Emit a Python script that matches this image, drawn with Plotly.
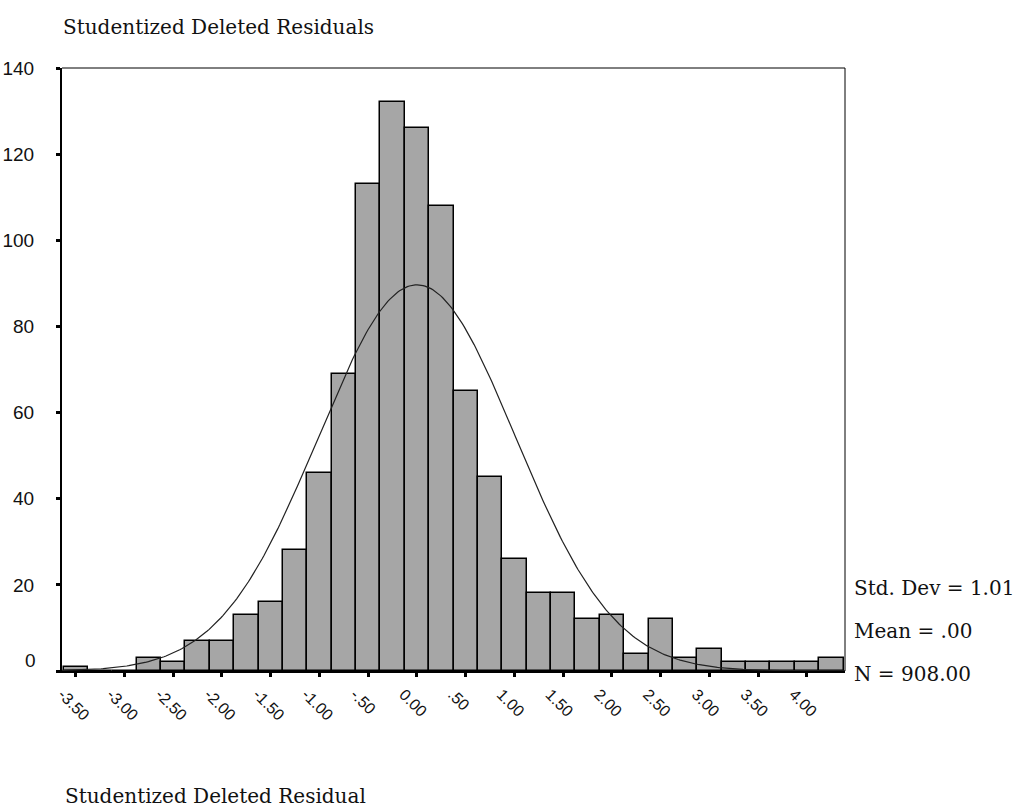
import numpy as np
import plotly.graph_objects as go

# ---- data ----
bin_centers = [-3.50, -3.25, -3.00, -2.75, -2.50, -2.25, -2.00, -1.75,
               -1.50, -1.25, -1.00, -0.75, -0.50, -0.25, 0.00, 0.25,
               0.50, 0.75, 1.00, 1.25, 1.50, 1.75, 2.00, 2.25,
               2.50, 2.75, 3.00, 3.25, 3.50, 3.75, 4.00, 4.25]
counts = [1, 0, 0, 3, 2, 7, 7, 13,
          16, 28, 46, 69, 113, 132, 126, 108,
          65, 45, 26, 18, 18, 12, 13, 4,
          12, 3, 5, 2, 2, 2, 2, 3]
tick_values = [-3.5, -3.0, -2.5, -2.0, -1.5, -1.0, -0.5, 0.0,
               0.5, 1.0, 1.5, 2.0, 2.5, 3.0, 3.5, 4.0]
tick_labels = ["-3.50", "-3.00", "-2.50", "-2.00", "-1.50", "-1.00", "-.50", "0.00",
               ".50", "1.00", "1.50", "2.00", "2.50", "3.00", "3.50", "4.00"]
y_ticks = [0, 20, 40, 60, 80, 100, 120, 140]
y_tick_labels = ["", "20", "40", "60", "80", "100", "120", "140"]  # "0" drawn separately (raised)

std_dev = 1.01
mean = 0.00
n_total = 908
bin_width = 0.25

title_top = "Studentized Deleted Residuals"
title_bottom = "Studentized Deleted Residual"
stats_lines = ["Std. Dev = 1.01", "Mean = .00", "N = 908.00"]

# normal curve fitted from the shown statistics
x_min, x_max = -3.641, 4.39
xs = np.linspace(x_min, x_max, 400)
ys = n_total * bin_width / (std_dev * np.sqrt(2 * np.pi)) * np.exp(-0.5 * ((xs - mean) / std_dev) ** 2)

fig = go.Figure()
fig.add_trace(go.Bar(
    x=bin_centers, y=counts, width=bin_width,
    marker=dict(color="#a6a6a6", line=dict(color="black", width=1.5)),
    showlegend=False, hoverinfo="skip"))
fig.add_trace(go.Scatter(
    x=xs, y=ys, mode="lines", line=dict(color="#222222", width=1.2),
    showlegend=False, hoverinfo="skip"))

serif = "DejaVu Serif"
sans = "Liberation Sans"
PH = 808 - 68 - 136.5
PW = 1023 - 62 - 178

fig.update_layout(
    width=1023, height=808,
    margin=dict(l=62, r=178, t=68, b=136.5, autoexpand=False),
    paper_bgcolor="white", plot_bgcolor="white",
    bargap=0,
    title=dict(text=title_top, font=dict(family=serif, size=20, color="#111"),
               xref="container", yref="container",
               x=63 / 1023, y=1 - 27 / 808, xanchor="left", yanchor="middle"),
    xaxis=dict(range=[x_min, x_max], tickmode="array", tickvals=tick_values,
               ticktext=tick_labels, tickangle=45, automargin=False,
               tickfont=dict(family=sans, size=16, color="#111"),
               ticks="outside", ticklen=4, tickwidth=3, tickcolor="black",
               showline=True, linecolor="black", linewidth=2,
               showgrid=False, zeroline=False,
               ticklabelshift=-13, ticklabelstandoff=2),
    yaxis=dict(range=[0, 140], tickmode="array", tickvals=y_ticks,
               ticktext=y_tick_labels, automargin=False,
               tickfont=dict(family=sans, size=19, color="#111"),
               ticks="outside", ticklen=4, tickwidth=3, tickcolor="black",
               showline=True, linecolor="black", linewidth=2,
               showgrid=False, zeroline=False, ticklabelstandoff=18),
)

# raised "0" label, as in the reference
fig.add_annotation(text="0", xref="paper", yref="y", x=0, y=0, xshift=-24,
                   yshift=11, xanchor="right", yanchor="middle", showarrow=False,
                   font=dict(family=sans, size=19, color="#111"))

# thin top and right frame lines
fig.add_shape(type="line", xref="paper", yref="paper", x0=0, x1=1, y0=1, y1=1,
              line=dict(color="black", width=1))
fig.add_shape(type="line", xref="paper", yref="paper", x0=1, x1=1, y0=0, y1=1,
              line=dict(color="black", width=1))

# statistics text at the right
stat_px = [588, 631, 675]
for txt, py in zip(stats_lines, stat_px):
    fig.add_annotation(text=txt, xref="paper", yref="paper", x=(852 - 62) / PW,
                       y=(671.5 - py) / PH, xanchor="left", yanchor="middle",
                       showarrow=False, font=dict(family=serif, size=20, color="#111"))

fig.add_annotation(text=title_bottom, xref="paper", yref="paper", x=0.001,
                   y=-(797 - 671.5) / PH, xanchor="left", yanchor="middle",
                   showarrow=False, font=dict(family=serif, size=20, color="#111"))

fig.write_html("out.html", config={"displayModeBar": False},
               post_script="document.body.style.margin='0';document.body.style.overflow='hidden';")
